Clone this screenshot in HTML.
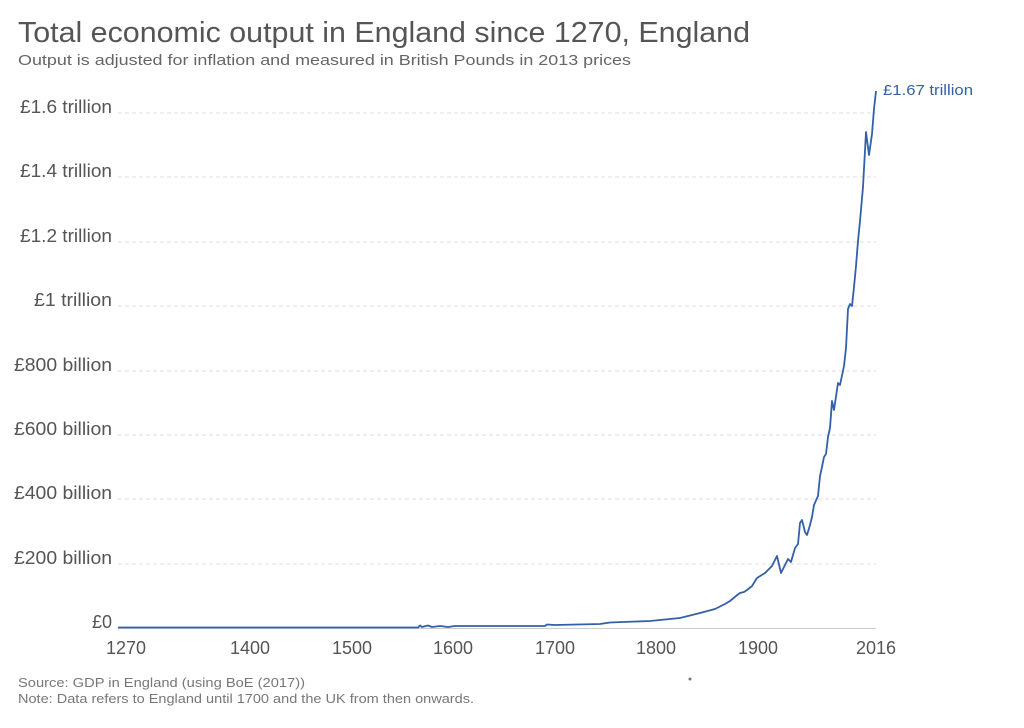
<!DOCTYPE html>
<html><head><meta charset="utf-8"><style>
body{margin:0;background:#fff;width:1024px;height:723px;overflow:hidden;font-family:"Liberation Sans",sans-serif}
</style></head><body>
<svg width="1024" height="723" xmlns="http://www.w3.org/2000/svg" font-family="Liberation Sans, sans-serif">
<text x="18" y="42" font-size="29" fill="#555" textLength="732" lengthAdjust="spacingAndGlyphs">Total economic output in England since 1270, England</text>
<text x="18" y="65" font-size="15" fill="#666" textLength="613" lengthAdjust="spacingAndGlyphs">Output is adjusted for inflation and measured in British Pounds in 2013 prices</text>
<g stroke="#ddd" stroke-dasharray="4,3" stroke-width="1">
<line x1="118" x2="876" y1="113" y2="113"/><line x1="118" x2="876" y1="177" y2="177"/>
<line x1="118" x2="876" y1="242" y2="242"/><line x1="118" x2="876" y1="306" y2="306"/>
<line x1="118" x2="876" y1="371" y2="371"/><line x1="118" x2="876" y1="435" y2="435"/>
<line x1="118" x2="876" y1="499" y2="499"/><line x1="118" x2="876" y1="564" y2="564"/>
</g>
<line x1="118" x2="876" y1="628.5" y2="628.5" stroke="#ccc"/>
<g font-size="18" fill="#555" text-anchor="end">
<text x="112" y="113" textLength="92" lengthAdjust="spacingAndGlyphs">£1.6 trillion</text><text x="112" y="177" textLength="92" lengthAdjust="spacingAndGlyphs">£1.4 trillion</text>
<text x="112" y="242" textLength="92" lengthAdjust="spacingAndGlyphs">£1.2 trillion</text><text x="112" y="306" textLength="78" lengthAdjust="spacingAndGlyphs">£1 trillion</text>
<text x="112" y="371" textLength="98" lengthAdjust="spacingAndGlyphs">£800 billion</text><text x="112" y="435" textLength="98" lengthAdjust="spacingAndGlyphs">£600 billion</text>
<text x="112" y="499" textLength="98" lengthAdjust="spacingAndGlyphs">£400 billion</text><text x="112" y="564" textLength="98" lengthAdjust="spacingAndGlyphs">£200 billion</text>
<text x="112" y="628">£0</text>
</g>
<g font-size="18" fill="#555" text-anchor="middle">
<text x="126" y="654">1270</text><text x="250" y="654">1400</text><text x="352" y="654">1500</text>
<text x="453" y="654">1600</text><text x="555" y="654">1700</text><text x="656" y="654">1800</text>
<text x="758" y="654">1900</text><text x="876" y="654">2016</text>
</g>
<polyline fill="none" stroke="#3360a9" stroke-width="1.8" stroke-linejoin="round" points="118,627.5 418,627.5 420,625.5 422,627 428,625.5 432,627 440,626 448,627 455,626 545,626 547,624.5 555,625 600,624 610,622.5 650,621 680,618 700,613 715,609 725,604 730,601 736,596 740,593 744,592 747,590 752,586 757,578 765,573 772,566 777,556 781,573 785,565 788,559 791,562 795,548 798,544 800,523 802,520 805,532 807,535 810,525 812,517 814,505 818,496 820,476 822,467 824,457 826,454 828,437 830,428 832,401 834,410 838,383 840,385 844,366 846,348 848,309 850,304 852,306 854,287 856,266 858,241 860,221 863,187 866,132 869,155 872,134 874,109 876,91"/>
<text x="883" y="95" font-size="15" fill="#3360a9" textLength="90" lengthAdjust="spacingAndGlyphs">£1.67 trillion</text>
<text x="18" y="687" font-size="13" fill="#777" textLength="287" lengthAdjust="spacingAndGlyphs">Source: GDP in England (using BoE (2017))</text>
<text x="18" y="703" font-size="13" fill="#777" textLength="456" lengthAdjust="spacingAndGlyphs">Note: Data refers to England until 1700 and the UK from then onwards.</text>
<circle cx="690" cy="679" r="1.5" fill="#777"/>
</svg>
</body></html>
